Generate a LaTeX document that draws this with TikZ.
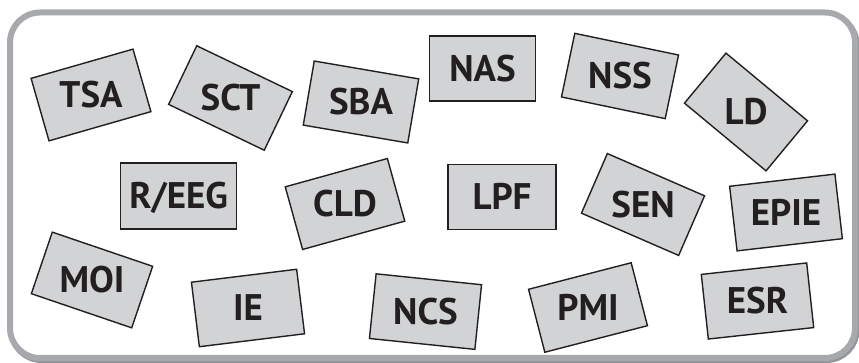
\documentclass[tikz,border=0pt]{standalone}
\usepackage{fontspec}
\setmainfont{PT Sans}
\usepackage{tikz}
\usetikzlibrary{positioning}

\definecolor{cardgray}{HTML}{D1D3D4}
\definecolor{framegray}{HTML}{A7A9AC}
\definecolor{shadowgray}{HTML}{939598}
\definecolor{inkblack}{HTML}{231F20}

\tikzset{
	card/.style={
		draw=inkblack,
		line width=1.4pt,
		fill=cardgray,
		minimum width=106pt,
		minimum height=65pt,
		inner sep=0pt
	},
	cardtext/.style={
		text=inkblack,
		font=\fontsize{37}{40}\selectfont\bfseries,
		text height=26pt,
		text depth=0pt,
		inner sep=0pt
	}
}

\begin{document}
\begin{tikzpicture}[x=1pt, y=1pt]

\useasboundingbox (0,0) rectangle (859,363);

% frame
\draw[line width=6pt, draw=shadowgray, rounded corners=30pt]
	(11.5,348.5) rectangle (856.5,3);
\draw[line width=6pt, draw=framegray, fill=white, rounded corners=30pt]
	(10,350.5) rectangle (855,5);

% top row
\node[card, rotate=16] (tsa) at (91,268) {};
\node[cardtext] (tsa-text) at (tsa) {TSA};
\node[card, rotate=-25.6] (sct) at (230.5,265) {};
\node[cardtext] (sct-text) at (sct) {SCT};
\node[card, rotate=-9.7] (sba) at (361,261) {};
\node[cardtext] (sba-text) at (sba) {SBA};
\node[card] (nas) at (482.5,294.5) {};
\node[cardtext] (nas-text) at (nas) {NAS};
\node[card, rotate=-11.8] (nss) at (620,287) {};
\node[cardtext] (nss-text) at (nss) {NSS};
\node[card, rotate=-39.7] (ld) at (746,251) {};
\node[cardtext] (ld-text) at (ld) {LD};

% middle row
\node[card, minimum width=116pt, minimum height=66pt] (reeg) at (178.7,167) {};
\node[cardtext] (reeg-text) at (reeg) {R/EEG};
\node[card, rotate=15.5] (cld) at (345,159) {};
\node[cardtext] (cld-text) at (cld) {CLD};
\node[card, minimum width=108pt] (lpf) at (502,166) {};
\node[cardtext] (lpf-text) at (lpf) {LPF};
\node[card, rotate=-23.5] (sen) at (643,158.5) {};
\node[cardtext] (sen-text) at (sen) {SEN};
\node[card, rotate=6.6] (epie) at (786,150.5) {};
\node[cardtext] (epie-text) at (epie) {EPIE};

% bottom row
\node[card, rotate=-18.8] (moi) at (92,83) {};
\node[cardtext] (moi-text) at (moi) {MOI};
\node[card, rotate=7] (ie) at (248,55) {};
\node[cardtext] (ie-text) at (ie) {IE};
\node[card, rotate=-5.9] (ncs) at (425.5,51.4) {};
\node[cardtext] (ncs-text) at (ncs) {NCS};
\node[card, rotate=14.5] (pmi) at (588,55.5) {};
\node[cardtext] (pmi-text) at (pmi) {PMI};
\node[card, rotate=6.2] (esr) at (757.5,62) {};
\node[cardtext] (esr-text) at (esr) {ESR};

\end{tikzpicture}
\end{document}
